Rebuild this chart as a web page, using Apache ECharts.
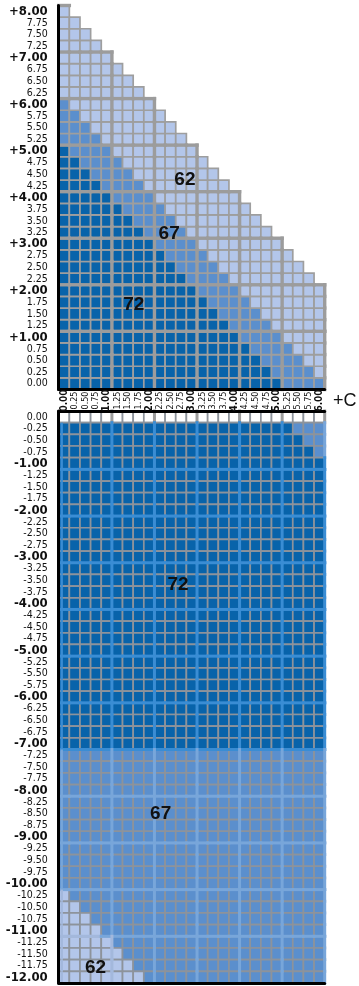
<!DOCTYPE html>
<html>
<head>
<meta charset="utf-8">
<script src="https://cdn.jsdelivr.net/npm/echarts@6/dist/echarts.min.js"></script>
<style>
  html, body { margin: 0; padding: 0; background: #fff; }
  #chart { width: 359px; height: 986px; }
</style>
</head>
<body>
<div id="chart"></div>
<script>
// ---- axis categories -------------------------------------------------------
const xLabels = ['0.00','0.25','0.50','0.75','1.00','1.25','1.50','1.75','2.00','2.25','2.50','2.75','3.00',
                 '3.25','3.50','3.75','4.00','4.25','4.50','4.75','5.00','5.25','5.50','5.75','6.00'];

const topYLabels = ['0.00','0.25','0.50','0.75','1.00','1.25','1.50','1.75','2.00','2.25','2.50','2.75','3.00',
                    '3.25','3.50','3.75','4.00','4.25','4.50','4.75','5.00','5.25','5.50','5.75','6.00',
                    '6.25','6.50','6.75','7.00','7.25','7.50','7.75','8.00'];

const bottomYLabels = ['0.00','-0.25','-0.50','-0.75','-1.00','-1.25','-1.50','-1.75','-2.00','-2.25','-2.50',
                       '-2.75','-3.00','-3.25','-3.50','-3.75','-4.00','-4.25','-4.50','-4.75','-5.00','-5.25',
                       '-5.50','-5.75','-6.00','-6.25','-6.50','-6.75','-7.00','-7.25','-7.50','-7.75','-8.00',
                       '-8.25','-8.50','-8.75','-9.00','-9.25','-9.50','-9.75','-10.00','-10.25','-10.50',
                       '-10.75','-11.00','-11.25','-11.50','-11.75','-12.00'];

// ---- zone cells per row ----------------------------------------------------
// Upper panel, rows from 0.00 up to 8.00; cells run left to right 72 -> 67 -> 62.
const topZone72 = [21,20,19,18,17,16,15,14,13,12,11,10,9,8,7,6,5,4,3,2,1,0,0,0,0,0,0,0,0,0,0,0,0];
const topZone67 = [4,4,4,4,4,4,4,4,4,4,4,4,4,4,4,4,4,4,4,4,4,4,3,2,1,0,0,0,0,0,0,0,0];
const topZone62 = [0,1,2,3,4,5,6,7,8,8,8,8,8,8,8,8,8,8,8,8,8,8,8,8,8,8,7,6,5,4,3,2,1];

// Lower panel, rows from 0.00 down to -12.00; cells run left to right blank -> 62 -> 72 -> 67.
const botBlank  = [25,0,0,0,0,0,0,0,0,0,0,0,0,0,0,0,0,0,0,0,0,0,0,0,0,0,0,0,0,0,0,0,0,0,0,0,0,0,0,0,0,0,0,0,0,0,0,0,0];
const botZone62 = [0,0,0,0,0,0,0,0,0,0,0,0,0,0,0,0,0,0,0,0,0,0,0,0,0,0,0,0,0,0,0,0,0,0,0,0,0,0,0,0,0,1,2,3,4,5,6,7,8];
const botZone72 = [0,22,23,24,25,25,25,25,25,25,25,25,25,25,25,25,25,25,25,25,25,25,25,25,25,25,25,25,25,
                   0,0,0,0,0,0,0,0,0,0,0,0,0,0,0,0,0,0,0,0];
const botZone67 = [0,3,2,1,0,0,0,0,0,0,0,0,0,0,0,0,0,0,0,0,0,0,0,0,0,0,0,0,0,
                   25,25,25,25,25,25,25,25,25,25,25,25,24,23,22,21,20,19,18,17];

// ---- zone captions -----------------------------------------------------------
const topCaptions    = [72, 67, 62];
const topCaptionX    = [1.64, 2.47, 2.84];
const topCaptionY    = [1.69, 3.22, 4.39];
const bottomCaptions = [72, 67, 62];
const bottomCaptionX = [2.68, 2.27, 0.74];
const bottomCaptionY = [-3.59, -8.51, -11.79];

// ---- build cell lists from the row tables ------------------------------------
function buildCells(yLabels, runs) {
  const cells = [];
  yLabels.forEach((yl, r) => {
    const y = parseFloat(yl);
    let col = 0;
    runs.forEach(([zone, counts]) => {
      for (let i = 0; i < counts[r]; i++) {
        cells.push([parseFloat(xLabels[col]), y, zone]);
        col++;
      }
    });
  });
  return cells;
}
const topCells = buildCells(topYLabels, [[72, topZone72], [67, topZone67], [62, topZone62]]);
const bottomCells = buildCells(bottomYLabels, [[0, botBlank], [62, botZone62], [72, botZone72], [67, botZone67]]);

// ---- styling ----------------------------------------------------------------
const NARROW = "'Liberation Sans Narrow', 'DejaVu Sans Condensed', 'Liberation Sans', sans-serif";
const SANS = "'Liberation Sans', Arial, sans-serif";
const FILL = { 72: '#0863aa', 67: '#5b8fcd', 62: '#b3c6ea', 0: '#ffffff' };
const BOLD_EDGE = { 72: '#3a8dd4', 67: '#78a6da', 62: '#a3b8dc', 0: '#9c9c9c' };

function cellBox(api) {
  const c = api.coord([api.value(0), api.value(1)]);
  const s = api.size([0.25, 0.25]);
  return { l: c[0] - s[0] / 2, r: c[0] + s[0] / 2, t: c[1] - s[1] / 2, b: c[1] + s[1] / 2 };
}

function cellRenderer(stroke) {
  return function (params, api) {
    const e = cellBox(api);
    return {
      type: 'rect',
      shape: { x: e.l, y: e.t, width: e.r - e.l, height: e.b - e.t },
      style: { fill: FILL[api.value(2)], stroke: stroke, lineWidth: 1.7 }
    };
  };
}

// heavier rules at every whole unit, upper panel
function topRules(params, api) {
  const x = api.value(0), y = api.value(1);
  const e = cellBox(api);
  const st = { stroke: '#9c9c9c', lineWidth: 3.4, lineCap: 'square' };
  const kids = [];
  if (Number.isInteger(x) && x >= 1) kids.push({ type: 'line', shape: { x1: e.r, y1: e.t, x2: e.r, y2: e.b }, style: st });
  if (Number.isInteger(y) && y >= 1) kids.push({ type: 'line', shape: { x1: e.l, y1: e.t, x2: e.r, y2: e.t }, style: st });
  return { type: 'group', children: kids };
}

// heavier rules at every whole unit, lower panel
function bottomRules(params, api) {
  const x = api.value(0), y = api.value(1), z = api.value(2);
  const e = cellBox(api);
  const st = { stroke: BOLD_EDGE[z], lineWidth: 3, lineCap: 'square' };
  const kids = [];
  if (Number.isInteger(x) && x >= 1) kids.push({ type: 'line', shape: { x1: e.r, y1: e.t, x2: e.r, y2: e.b }, style: st });
  if (z !== 0) {
    if (Number.isInteger(y) && y <= -1 && y > -12) kids.push({ type: 'line', shape: { x1: e.l, y1: e.b, x2: e.r, y2: e.b }, style: st });
    if (x === 0) kids.push({ type: 'line', shape: { x1: e.l + 3, y1: e.t, x2: e.l + 3, y2: e.b }, style: { stroke: BOLD_EDGE[z], lineWidth: 2.4 } });
  }
  return { type: 'group', children: kids };
}

function captionRenderer(params, api) {
  const c = api.coord([api.value(0), api.value(1)]);
  return {
    type: 'text', x: c[0], y: c[1],
    style: { text: String(api.value(2)), fill: '#111', fontFamily: SANS, fontWeight: 'bold', fontSize: 19,
             align: 'center', verticalAlign: 'middle' }
  };
}

function isWhole(v) { const n = parseFloat(v); return Number.isInteger(n) && n !== 0; }

const labelRich = {
  b: { fontFamily: NARROW, fontWeight: 'bold', fontSize: 13, color: '#111' },
  s: { fontFamily: NARROW, fontSize: 10.5, color: '#111' }
};
const xRich = {
  b: { fontFamily: NARROW, fontWeight: 'bold', fontSize: 10, color: '#111' },
  s: { fontFamily: NARROW, fontSize: 9, color: '#111' }
};
const blackLine = { show: true, onZero: false, lineStyle: { color: '#000', width: 3 } };

const option = {
  animation: false,
  backgroundColor: '#fff',
  grid: [
    { left: 58.7, top: 5.5, width: 266, height: 384 },
    { left: 58.7, top: 411, width: 266, height: 572 }
  ],
  xAxis: [
    { gridIndex: 0, type: 'category', data: xLabels, position: 'bottom', boundaryGap: true, z: 10,
      axisLine: blackLine, axisTick: { show: false }, splitLine: { show: false },
      axisLabel: { interval: 0, rotate: 90, align: 'center', verticalAlign: 'middle', margin: 11,
                   formatter: v => isWhole(v) || v === '0.00' ? '{b|' + v + '}' : '{s|' + v + '}', rich: xRich } },
    { gridIndex: 0, type: 'value', min: -0.125, max: 6.125, show: false },
    { gridIndex: 1, type: 'value', min: -0.125, max: 6.125, position: 'top', z: 10,
      axisLine: blackLine, axisTick: { show: false }, axisLabel: { show: false }, splitLine: { show: false } },
    { gridIndex: 1, type: 'value', min: -0.125, max: 6.125, position: 'bottom', z: 10,
      axisLine: blackLine, axisTick: { show: false }, axisLabel: { show: false }, splitLine: { show: false } }
  ],
  yAxis: [
    { gridIndex: 0, type: 'category', data: topYLabels, boundaryGap: true, z: 10,
      axisLine: blackLine, axisTick: { show: false }, splitLine: { show: false },
      axisLabel: { interval: 0, margin: 11,
                   formatter: v => isWhole(v) ? '{b|+' + v + '}' : '{s|' + v + '}', rich: labelRich } },
    { gridIndex: 0, type: 'value', min: -0.125, max: 8.125, show: false },
    { gridIndex: 1, type: 'category', data: bottomYLabels, inverse: true, boundaryGap: true, z: 10,
      axisLine: blackLine, axisTick: { show: false }, splitLine: { show: false },
      axisLabel: { interval: 0, margin: 11,
                   formatter: v => isWhole(v) ? '{b|' + v + '}' : '{s|' + v + '}', rich: labelRich } },
    { gridIndex: 1, type: 'value', min: -12.125, max: 0.125, show: false }
  ],
  series: [
    { type: 'custom', xAxisIndex: 1, yAxisIndex: 1, z: 2, silent: true, data: topCells,
      renderItem: cellRenderer('#9e9e9e') },
    { type: 'custom', xAxisIndex: 1, yAxisIndex: 1, z: 3, silent: true, data: topCells,
      renderItem: topRules },
    { type: 'custom', xAxisIndex: 2, yAxisIndex: 3, z: 2, silent: true, data: bottomCells,
      renderItem: cellRenderer('#8d939b') },
    { type: 'custom', xAxisIndex: 2, yAxisIndex: 3, z: 3, silent: true, data: bottomCells,
      renderItem: bottomRules },
    { type: 'custom', xAxisIndex: 1, yAxisIndex: 1, z: 5, silent: true,
      data: topCaptions.map((v, i) => [topCaptionX[i], topCaptionY[i], v]), renderItem: captionRenderer },
    { type: 'custom', xAxisIndex: 2, yAxisIndex: 3, z: 5, silent: true,
      data: bottomCaptions.map((v, i) => [bottomCaptionX[i], bottomCaptionY[i], v]), renderItem: captionRenderer }
  ],
  graphic: [
    { type: 'text', left: 333, top: 392, style: { text: '+C', fontFamily: SANS, fontSize: 18, fill: '#111' } }
  ]
};

const chart = echarts.init(document.getElementById('chart'), null, { renderer: 'canvas' });
chart.setOption(option);
</script>
</body>
</html>
